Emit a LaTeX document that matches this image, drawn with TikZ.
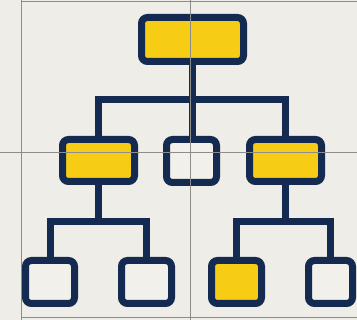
\documentclass[tikz,border=0pt]{standalone}
\begin{document}
\begin{tikzpicture}[x=1pt,y=-1pt,
  navy/.style={draw=navyc, line width=7pt},
  ybox/.style={navy, fill=yellowc, rounded corners=6pt},
  wbox/.style={navy, fill=paperw, rounded corners=6pt},
  link/.style={draw=navyc, line width=7pt},
  grid/.style={draw=gridc, line width=1pt}]
\definecolor{navyc}{HTML}{142A50}
\definecolor{yellowc}{HTML}{F6CD14}
\definecolor{paperw}{HTML}{F1F0EB}
\definecolor{bgc}{HTML}{EEEDE8}
\definecolor{gridc}{HTML}{8C8C8C}
\useasboundingbox (0,0) rectangle (357,320);
\fill[bgc] (0,0) rectangle (357,320);
\begin{scope}
\clip (0,0) rectangle (357,320);
% boxes
\path[ybox] (141.5,17.5) rectangle (243.5,61.5);
\coordinate (top) at (192.5,39.5);
\path[ybox] (62.5,139.5) rectangle (134.5,181.5);
\path[wbox] (166.5,139.5) rectangle (216.5,182.5);
\path[ybox] (249.5,139.5) rectangle (321.5,181.5);
\path[wbox] (25.5,260.5) rectangle (74.5,303.5);
\path[wbox] (121.5,260.5) rectangle (171.5,303.5);
\path[ybox] (211.5,260.5) rectangle (261.5,303.5);
\path[wbox] (308.5,260.5) rectangle (352.5,303.5);
% named anchor points
\coordinate (tb) at (192,65);
\coordinate (ml) at (98.5,136);
\coordinate (mm) at (192,136);
\coordinate (mr) at (285.5,136);
\coordinate (mlb) at (98.5,185);
\coordinate (mrb) at (285.5,185);
\coordinate (b1) at (50,257);
\coordinate (b2) at (146.5,257);
\coordinate (b3) at (236.5,257);
\coordinate (b4) at (330.5,257);
% connectors
\draw[link] (tb) -- (mm);
\draw[link, line join=miter] (ml) -- (98.5,100) -- (285.5,100) -- (mr);
\draw[link] (mlb) -- (98.5,222);
\draw[link, line join=miter] (b1) -- (50,222) -- (146.5,222) -- (b2);
\draw[link] (mrb) -- (285.5,222);
\draw[link, line join=miter] (b3) -- (236.5,222) -- (330.5,222) -- (b4);
% grid lines
\draw[grid] (21,0) -- (21,320);
\draw[grid] (190.5,0) -- (190.5,320);
\draw[grid] (21,2) -- (357,2);
\draw[grid] (0,153) -- (357,153);
\draw[grid] (21,318) -- (357,318);
\end{scope}
\end{tikzpicture}
\end{document}
